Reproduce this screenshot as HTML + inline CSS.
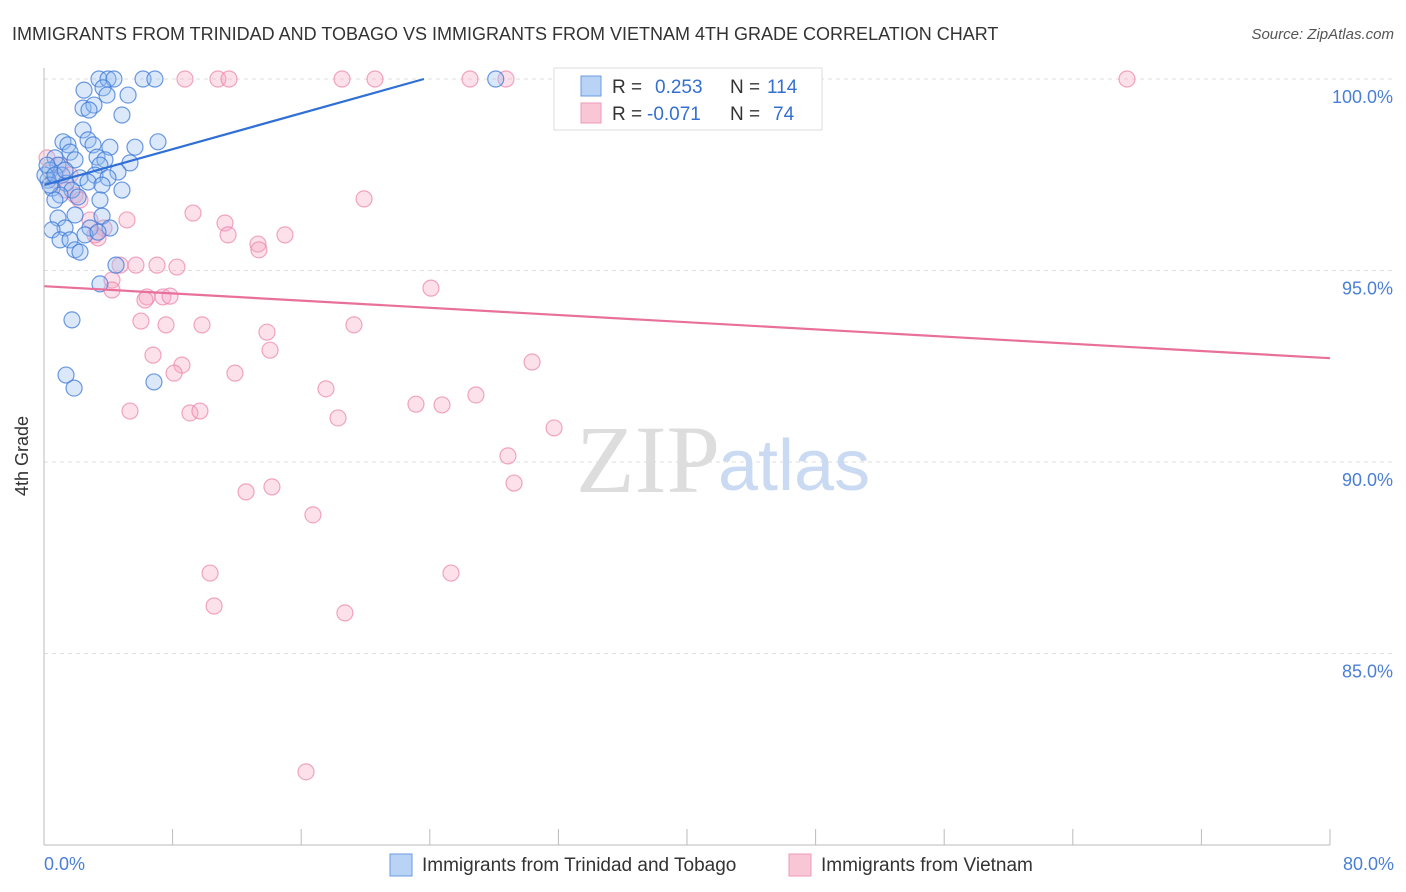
<!DOCTYPE html>
<html><head><meta charset="utf-8"><style>
body{margin:0;background:#fff;font-family:"Liberation Sans",sans-serif;}
svg{display:block}
</style></head><body>
<svg width="1406" height="892" xmlns="http://www.w3.org/2000/svg">
<text x="12" y="40" font-size="18" fill="#333">IMMIGRANTS FROM TRINIDAD AND TOBAGO VS IMMIGRANTS FROM VIETNAM 4TH GRADE CORRELATION CHART</text>
<text x="1394" y="39" font-size="15" fill="#555" font-style="italic" text-anchor="end">Source: ZipAtlas.com</text>
<g id="grid"></g>
<text x="720" y="492" font-size="96" fill="#ddd" text-anchor="end" font-family="Liberation Serif">ZIP</text>
<text x="718" y="490" font-size="72" fill="#c9daf2">atlas</text>
<g id="marks"></g>
<g id="lines"></g>
<line x1="44" y1="68" x2="44" y2="845" stroke="#bbb"/>
<line x1="44" y1="845" x2="1330" y2="845" stroke="#bbb"/>
<text x="28" y="456" font-size="18" fill="#333" transform="rotate(-90 28 456)" text-anchor="middle">4th Grade</text>
<text x="44" y="870" font-size="18" fill="#4a7fd6">0.0%</text>
<text x="1394" y="870" font-size="18" fill="#4a7fd6" text-anchor="end">80.0%</text>
<g>
<rect x="554" y="68" width="268" height="62" fill="#fff" stroke="#ddd"/>
<rect x="581" y="76" width="20" height="20" fill="#b8d3f5" stroke="#6b9be0"/>
<rect x="581" y="103" width="20" height="20" fill="#f9c6d6" stroke="#ee9ab6"/>
<text x="612" y="93" font-size="19" fill="#333">R = <tspan fill="#3570d0" x="655">0.253</tspan><tspan x="730">N = </tspan><tspan fill="#3570d0" x="767">114</tspan></text>
<text x="612" y="120" font-size="19" fill="#333">R = <tspan fill="#3570d0" x="647">-0.071</tspan><tspan x="730">N = </tspan><tspan fill="#3570d0" x="773">74</tspan></text>
</g>
<g>
<rect x="390" y="854" width="22" height="22" fill="#b8d3f5" stroke="#6b9be0"/>
<text x="422" y="871" font-size="19" fill="#333">Immigrants from Trinidad and Tobago</text>
<rect x="789" y="854" width="22" height="22" fill="#f9c6d6" stroke="#ee9ab6"/>
<text x="821" y="871" font-size="19" fill="#333">Immigrants from Vietnam</text>
</g>
</svg>
<script>
const yTicks=[100,95,90,85];
const xTickCount=10;
const blueX=[3.42,3.98,4.35,6.16,6.9,28.1,2.49,3.67,3.92,5.23,2.43,3.11,2.8,4.85,2.43,7.09,1.18,1.49,2.74,3.05,4.1,5.66,0.68,1.62,3.3,3.79,5.35,0.87,1.93,3.48,4.6,0.37,1.12,2.24,3.17,3.98,0.25,1.37,2.74,3.61,4.85,0.5,1.74,1.0,2.12,3.48,0.68,1.93,3.61,0.87,2.86,1.31,4.1,0.5,1.0,1.62,2.55,3.36,1.93,2.24,4.48,3.48,1.74,1.37,1.87,6.84,0.06,0.19,0.37,0.68,1.31];
const blueY=[100,100,100,100,100,100,99.71,99.77,99.58,99.58,99.24,99.32,99.19,99.06,98.67,98.36,98.36,98.28,98.41,98.28,98.22,98.22,97.94,98.09,97.96,97.89,97.81,97.75,97.89,97.75,97.57,97.62,97.49,97.42,97.49,97.42,97.36,97.28,97.31,97.23,97.1,97.15,97.1,96.97,96.92,96.84,96.84,96.45,96.42,96.37,96.11,96.11,96.11,96.06,95.8,95.8,95.93,96.0,95.54,95.48,95.14,94.65,93.71,92.27,91.93,92.09,97.49,97.75,97.23,97.49,97.62];
const pinkX=[8.77,10.82,11.51,18.54,20.59,26.5,28.74,43.17,67.37,0.19,1.0,1.62,0.68,1.93,1.31,19.91,9.27,11.26,11.45,5.16,2.86,3.73,3.36,13.31,14.99,13.37,4.73,5.72,7.03,8.27,4.23,4.23,6.41,7.4,7.84,6.28,24.07,6.03,7.59,9.83,13.87,19.28,14.06,6.78,8.58,8.09,11.88,30.36,17.54,26.87,5.35,9.08,9.7,18.29,23.14,24.76,31.73,28.86,29.24,12.57,14.18,16.73,10.33,25.32,10.58,18.72,16.3,2.24,3.17];
const pinkY=[100,100,100,100,100,100,100,100,100,97.94,97.75,97.49,97.36,96.97,97.1,96.87,96.5,96.24,95.93,96.32,96.32,96.11,95.85,95.69,95.93,95.54,95.14,95.14,95.14,95.09,94.75,94.49,94.31,94.31,94.33,94.23,94.54,93.68,93.58,93.58,93.39,93.58,92.92,92.79,92.53,92.32,92.32,92.61,91.91,91.75,91.33,91.28,91.33,91.15,91.51,91.49,90.89,90.16,89.45,89.22,89.35,88.62,87.1,87.1,86.24,86.06,81.91,96.84,95.93];
const blueTrend=[97.23,0.1172];
const pinkTrend=[94.59,-0.0235];
const X=v=>44+v/80*1286;
const Y=v=>79+(100-v)*38.3;
const NS="http://www.w3.org/2000/svg";
const grid=document.getElementById('grid'),marks=document.getElementById('marks'),lines=document.getElementById('lines');
function mk(tag,attrs,parent){const e=document.createElementNS(NS,tag);for(const k in attrs)e.setAttribute(k,attrs[k]);parent.appendChild(e);return e;}
yTicks.forEach(t=>{
 const l=mk('line',{x1:44,x2:1394,y1:Y(t),y2:Y(t),stroke:'#ddd','stroke-dasharray':'4 4'},grid);
 
 
 const tx=mk('text',{x:1393,y:Y(t)+24,'font-size':18,fill:'#4a7fd6','text-anchor':'end'},grid);
 tx.textContent=t.toFixed(1)+'%';
 
 
});
for(let i=0;i<=xTickCount;i++){
 const x=X(i*80/xTickCount);
 const l=mk('line',{x1:x,x2:x,y1:829,y2:845,stroke:'#bbb'},grid);
 
 
}
pinkX.forEach((v,i)=>{
 const c=mk('circle',{cx:X(v),cy:Y(pinkY[i]),r:8,fill:'rgba(245,170,195,0.35)',stroke:'rgba(235,130,170,0.7)','stroke-width':1.2},marks);
 
 
});
blueX.forEach((v,i)=>{
 const c=mk('circle',{cx:X(v),cy:Y(blueY[i]),r:8,fill:'rgba(150,190,240,0.35)',stroke:'rgba(60,120,215,0.75)','stroke-width':1.2},marks);
 
 
});
const bx2=(100-blueTrend[0])/blueTrend[1];
const bl=mk('line',{x1:X(0),y1:Y(blueTrend[0]),x2:X(bx2),y2:Y(100),stroke:'#2f6fd6','stroke-width':2.2},lines);


const pl=mk('line',{x1:X(0),y1:Y(pinkTrend[0]),x2:X(80),y2:Y(pinkTrend[0]+pinkTrend[1]*80),stroke:'#e8709a','stroke-width':2.2},lines);


</script>
</body></html>
